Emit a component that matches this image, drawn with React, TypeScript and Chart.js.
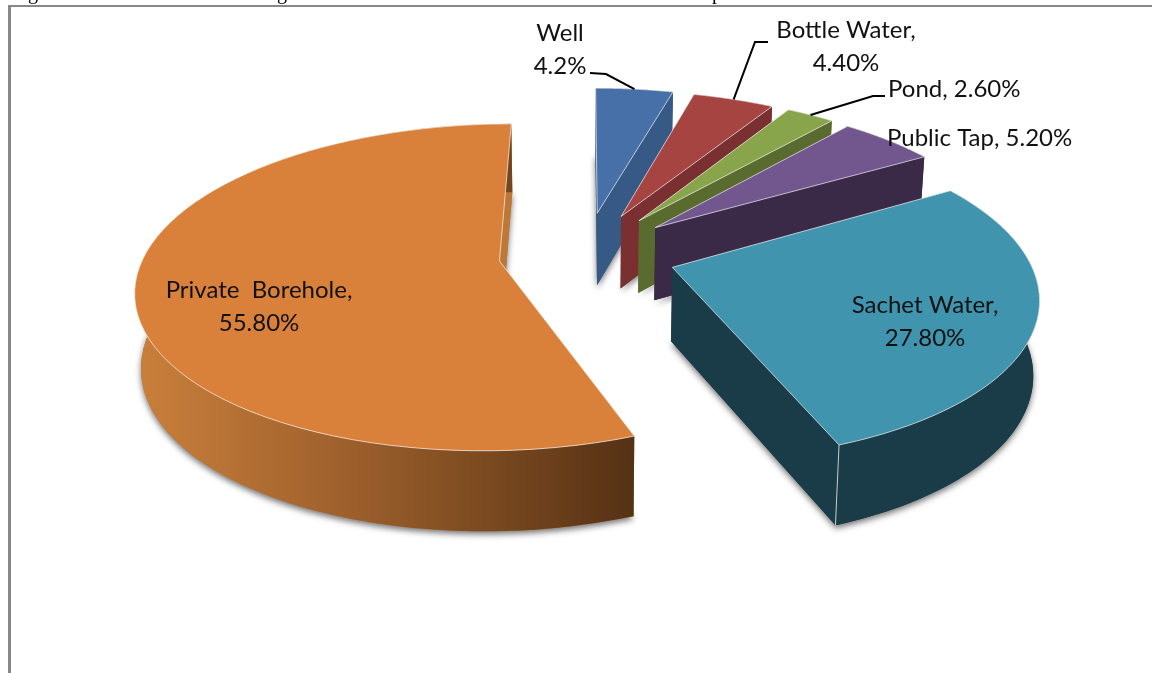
import React, { useEffect, useRef } from "react";
import Chart from "chart.js/auto";

const categories = ["Well", "Bottle Water", "Pond", "Public Tap", "Sachet Water", "Private Borehole"];
const values = [4.2, 4.4, 2.6, 5.2, 27.8, 55.8];
const sliceOffsets = [82, 81, 81, 80, 77, 73];
const topColors = ["#4870a8", "#a64442", "#89a54c", "#72578f", "#4094ae", "#d9813b"];
const wallColors = ["#365a85", "#7a3030", "#5a6b30", "#3a2a47", "#1a3b48", "#bd7835"];
const labelLines = [
  ["Well", "4.2%"],
  ["Bottle Water,", "4.40%"],
  ["Pond, 2.60%"],
  ["Public Tap, 5.20%"],
  ["Sachet Water,", "27.80%"],
  ["Private  Borehole,", "55.80%"],
];

// layout of the label texts: x, first baseline, alignment
const labelLayout: [number, number, CanvasTextAlign][] = [
  [560, 41, "center"],
  [846, 38, "center"],
  [888, 97, "left"],
  [887, 146, "left"],
  [925, 313, "center"],
  [259, 298, "center"],
];
// leader lines: waypoints from the label toward the slice rim
const leaders: Record<number, [number, number][]> = {
  0: [[590, 73], [606, 74]],
  1: [[768, 42], [755, 42]],
  2: [[885, 96], [873, 96]],
};

const CX = 585, CY = 254, A = 355, B = 157, K = 0.16, DEPTH = 73.5, SHRINK = 0.014;
const drawOrder = [0, 1, 2, 3, 5, 4];

function P(X: number, Y: number, z: number): [number, number] {
  const s = 1 / (1 - K * Y);
  return [CX + A * X * s * (1 - SHRINK * z), CY + B * Y * s + z * DEPTH * Math.sqrt(s)];
}

function poly(ctx: CanvasRenderingContext2D, pts: [number, number][]) {
  ctx.beginPath();
  pts.forEach((p, i) => (i ? ctx.lineTo(p[0], p[1]) : ctx.moveTo(p[0], p[1])));
  ctx.closePath();
}

function sliceGeom(arc: any) {
  const R = arc.outerRadius;
  const mid = (arc.startAngle + arc.endAngle) / 2;
  const o = arc.options.offset / R;
  const ox = Math.cos(mid) * o, oy = Math.sin(mid) * o;
  const rim: [number, number][] = [];
  const n = 72;
  for (let j = 0; j <= n; j++) {
    const t = arc.startAngle + ((arc.endAngle - arc.startAngle) * j) / n;
    rim.push([ox + Math.cos(t), oy + Math.sin(t)]);
  }
  return { ox, oy, rim, mid };
}

const pie3d = {
  id: "pie3d",
  beforeDraw(chart: any) {
    const ctx: CanvasRenderingContext2D = chart.ctx;
    ctx.save();
    ctx.fillStyle = "#ffffff";
    ctx.fillRect(0, 0, chart.width, chart.height);
    // clipped caption above the frame
    ctx.beginPath();
    ctx.rect(0, 0, chart.width, 5);
    ctx.clip();
    ctx.fillStyle = "#000";
    ctx.font = "20px 'Liberation Serif'";
    ctx.textAlign = "left";
    ctx.textBaseline = "alphabetic";
    ctx.fillText("g", 28, -1);
    ctx.fillText("g", 277, -1);
    ctx.fillText("p", 712, -1);
    ctx.restore();
    ctx.save();
    ctx.fillStyle = "#888888";
    ctx.fillRect(8, 5, chart.width - 8, 2);
    ctx.fillRect(8, 5, 3, chart.height - 5);
    ctx.restore();
  },
  beforeDatasetDraw(chart: any) {
    const ctx: CanvasRenderingContext2D = chart.ctx;
    const arcs = chart.getDatasetMeta(0).data;
    ctx.save();
    drawOrder.forEach((i) => {
      const { ox, oy, rim } = sliceGeom(arcs[i]);
      const top = rim.map((p) => P(p[0], p[1], 0));
      const bot = rim.map((p) => P(p[0], p[1], 1));
      const a0 = P(ox, oy, 0), a1 = P(ox, oy, 1);
      const wall: any = i === 5
        ? (() => {
            const g = ctx.createLinearGradient(145, 0, 632, 0);
            g.addColorStop(0, "#c87e3a");
            g.addColorStop(0.35, "#a5652f");
            g.addColorStop(0.7, "#7b4a20");
            g.addColorStop(1, "#563215");
            return g;
          })()
        : wallColors[i];

      // soft shadow of the base
      ctx.save();
      ctx.shadowColor = "rgba(0,0,0,0.55)";
      ctx.shadowBlur = 6;
      ctx.shadowOffsetX = 0;
      ctx.shadowOffsetY = 3;
      ctx.fillStyle = wallColors[i];
      poly(ctx, [a1, ...bot]);
      ctx.fill();
      ctx.restore();

      // radial faces
      ctx.fillStyle = wallColors[i];
      poly(ctx, [a0, top[top.length - 1], bot[bot.length - 1], a1]);
      ctx.fill();
      poly(ctx, [a0, top[0], bot[0], a1]);
      ctx.fill();

      // outer wall
      ctx.fillStyle = wall;
      poly(ctx, [...top, ...bot.slice().reverse()]);
      ctx.fill();

      // top face
      ctx.fillStyle = topColors[i];
      poly(ctx, [a0, ...top]);
      ctx.fill();
      ctx.strokeStyle = "rgba(255,255,255,0.65)";
      ctx.lineWidth = 1;
      ctx.lineJoin = "round";
      ctx.stroke();
    });

    // corner highlight of the sachet slice
    const geom = sliceGeom(arcs[4]);
    const end = geom.rim[geom.rim.length - 1];
    const e0 = P(end[0], end[1], 0), e1 = P(end[0], end[1], 1);
    ctx.strokeStyle = "rgba(255,255,255,0.75)";
    ctx.lineWidth = 1;
    ctx.beginPath();
    ctx.moveTo(e0[0], e0[1]);
    ctx.lineTo(e1[0], e1[1]);
    ctx.stroke();
    ctx.restore();
    return false;
  },
  afterDatasetsDraw(chart: any) {
    const ctx: CanvasRenderingContext2D = chart.ctx;
    const arcs = chart.getDatasetMeta(0).data;
    ctx.save();
    ctx.strokeStyle = "#000";
    ctx.lineWidth = 2;
    Object.keys(leaders).forEach((k) => {
      const i = Number(k);
      const { ox, oy, mid } = sliceGeom(arcs[i]);
      const rimPt = P(ox + Math.cos(mid), oy + Math.sin(mid), 0);
      const pts = [...leaders[i], rimPt];
      ctx.beginPath();
      pts.forEach((p, j) => (j ? ctx.lineTo(p[0], p[1]) : ctx.moveTo(p[0], p[1])));
      ctx.stroke();
    });
    ctx.fillStyle = "#111";
    ctx.font = "24px Lato";
    ctx.textBaseline = "alphabetic";
    labelLines.forEach((lines, i) => {
      const [x, y, align] = labelLayout[i];
      ctx.textAlign = align;
      lines.forEach((t, j) => ctx.fillText(t, x, y + j * 33));
    });
    ctx.restore();
  },
};

export default function App() {
  const ref = useRef<HTMLCanvasElement>(null);
  useEffect(() => {
    document.body.style.margin = "0";
    const chart = new Chart(ref.current!, {
      type: "pie",
      data: {
        labels: categories,
        datasets: [{ data: values, offset: sliceOffsets, backgroundColor: topColors, borderWidth: 0, hoverOffset: 0 }],
      },
      options: {
        animation: false,
        responsive: false,
        devicePixelRatio: 1,
        radius: 300,
        rotation: 0,
        events: [],
        plugins: { legend: { display: false }, tooltip: { enabled: false }, title: { display: false } },
      } as any,
      plugins: [pie3d as any],
    });
    return () => chart.destroy();
  }, []);
  return (
    <div style={{ position: "fixed", left: 0, top: 0, width: 1152, height: 673, background: "#fff" }}>
      <canvas ref={ref} width={1152} height={673} style={{ display: "block" }} />
    </div>
  );
}
